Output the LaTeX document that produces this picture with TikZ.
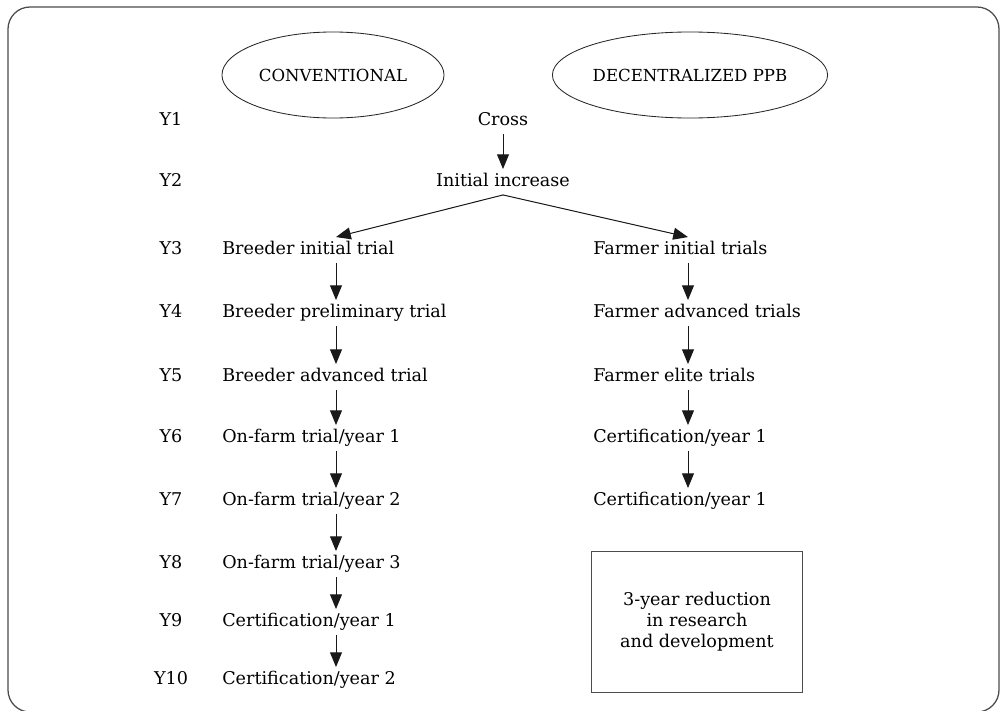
\documentclass[tikz,border=0pt]{standalone}
\usepackage{fontspec}
\setmainfont{DejaVu Serif}
\usetikzlibrary{arrows.meta,shapes.geometric}

\begin{document}
\begin{tikzpicture}[x=0.025cm,y=-0.025cm,font=\fontsize{12.5}{15}\selectfont,
  lbl/.style={inner xsep=0pt,inner ysep=3pt,text height=9pt,text depth=3pt},
  arr/.style={-{Triangle[length=10.5pt,width=8.5pt]},line width=0.7pt,draw=black!90,fill=black!90},
  oval/.style={ellipse,draw=black!85,line width=0.6pt,inner sep=0pt,minimum height=2.15cm,font=\fontsize{11.8}{14}\selectfont}]

\useasboundingbox (0,0) rectangle (1001,711);
\draw[rounded corners=0.55cm,line width=0.9pt,draw=black!70] (8,7) rectangle (999,712);

\node[oval,minimum width=5.55cm] (conv) at (333,75) {CONVENTIONAL};
\node[oval,minimum width=5.725cm] (ppb) at (690,75) {DECENTRALIZED PPB};

\foreach \i/\y in {1/121,2/182,3/250,4/313,5/377,6/438,7/501,8/564,9/622,10/680}
{
	\node[lbl] (y\i) at (171,\y) {Y\i};
}

\coordinate (lx) at (336,0);
\coordinate (rx) at (688,0);

\node[lbl] (cross) at (503,121) {Cross};
\node[lbl] (inc) at (503,182) {Initial increase};

\node[lbl,anchor=west] (b1) at (222,250) {Breeder initial trial};
\node[lbl,anchor=west] (b2) at (222,313) {Breeder preliminary trial};
\node[lbl,anchor=west] (b3) at (222,377) {Breeder advanced trial};
\node[lbl,anchor=west] (b4) at (222,438) {On-farm trial/year 1};
\node[lbl,anchor=west] (b5) at (222,501) {On-farm trial/year 2};
\node[lbl,anchor=west] (b6) at (222,564) {On-farm trial/year 3};
\node[lbl,anchor=west] (b7) at (222,622) {Certification/year 1};
\node[lbl,anchor=west] (b8) at (222,680) {Certification/year 2};

\node[lbl,anchor=west] (f1) at (593,250) {Farmer initial trials};
\node[lbl,anchor=west] (f2) at (593,313) {Farmer advanced trials};
\node[lbl,anchor=west] (f3) at (593,377) {Farmer elite trials};
\node[lbl,anchor=west] (f4) at (593,438) {Certification/year 1};
\node[lbl,anchor=west] (f5) at (593,501) {Certification/year 1};

\node[draw=black!70,line width=0.7pt,minimum width=5.25cm,minimum height=3.525cm,align=center] (gain) at (697,622) {3-year reduction\\in research\\and development};

\draw[arr] (cross) -- (inc);
\draw[arr] (inc.south) -- (b1.north -| lx);
\draw[arr] (inc.south) -- (f1.north -| rx);

\foreach \a/\b in {b1/b2,b2/b3,b3/b4,b4/b5,b5/b6,b6/b7,b7/b8}
{
	\draw[arr] (\a.south -| lx) -- (\b.north -| lx);
}
\foreach \a/\b in {f1/f2,f2/f3,f3/f4,f4/f5}
{
	\draw[arr] (\a.south -| rx) -- (\b.north -| rx);
}

\end{tikzpicture}
\end{document}
